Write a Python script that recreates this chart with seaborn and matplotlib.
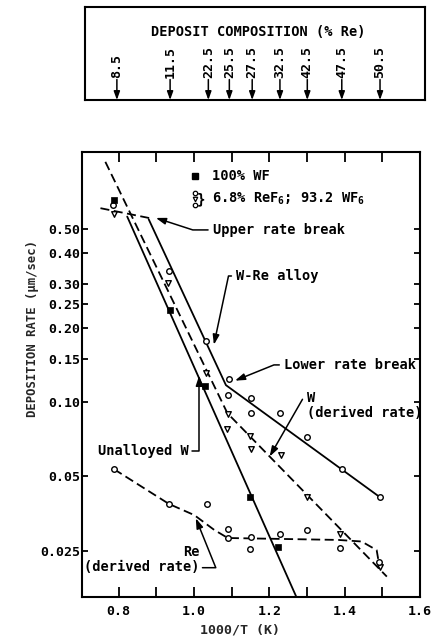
import matplotlib
matplotlib.use("Agg")
import matplotlib.pyplot as plt
from matplotlib.ticker import FixedLocator, FixedFormatter, NullLocator
import seaborn as sns

# Measured rates, 100% WF (filled squares)
wf_x = [0.788, 0.937, 1.030, 1.149, 1.223]
wf_y = [0.659, 0.236, 0.116, 0.0411, 0.0259]

# W-Re alloy total rate (open circles)
alloy_x = [0.786, 0.934, 1.032, 1.094, 1.090, 1.152, 1.152, 1.229, 1.299, 1.392, 1.494]
alloy_y = [0.630, 0.338, 0.176, 0.124, 0.107, 0.104, 0.0905, 0.090, 0.072, 0.0534, 0.0413]

# W derived rate (open triangles)
wder_x = [0.788, 0.931, 1.032, 1.090, 1.087, 1.149, 1.152, 1.232, 1.299, 1.388, 1.494]
wder_y = [0.578, 0.303, 0.131, 0.0895, 0.0776, 0.0729, 0.0644, 0.0611, 0.0413, 0.0292, 0.0214]

# Re derived rate (open circles)
re_x = [0.788, 0.934, 1.034, 1.090, 1.090, 1.152, 1.150, 1.228, 1.299, 1.388, 1.492]
re_y = [0.0534, 0.0386, 0.0387, 0.0306, 0.0281, 0.0284, 0.0253, 0.0292, 0.0303, 0.0255, 0.0225]

# Fitted lines
alloy_line_x = [0.880, 1.085, 1.493]
alloy_line_y = [0.550, 0.117, 0.0412]
unalloyed_line_x = [0.823, 1.272]
unalloyed_line_y = [0.564, 0.0162]
wder_line_x = [0.765, 1.089, 1.512]
wder_line_y = [0.94, 0.090, 0.0196]
upper_line_x = [0.752, 0.885]
upper_line_y = [0.61, 0.555]
re_line_x = [0.788, 0.934, 1.001, 1.054, 1.090, 1.383, 1.445, 1.485, 1.491]
re_line_y = [0.0534, 0.0386, 0.0348, 0.0303, 0.0281, 0.0276, 0.0272, 0.0251, 0.0222]

# Deposit composition scale (% Re) on top
comp_x = [0.797, 0.939, 1.041, 1.097, 1.158, 1.232, 1.305, 1.397, 1.499]
comp_labels = ["8.5", "11.5", "22.5", "25.5", "27.5", "32.5", "42.5", "47.5", "50.5"]

y_ticks = [0.025, 0.05, 0.10, 0.15, 0.20, 0.25, 0.30, 0.40, 0.50]
y_ticklabels = ["0.025", "0.05", "0.10", "0.15", "0.20", "0.25", "0.30", "0.40", "0.50"]
x_ticks = [0.8, 1.0, 1.2, 1.4, 1.6]
x_minor = [0.9, 1.1, 1.3, 1.5]

sns.set_style("ticks")
plt.rcParams['font.family'] = ['DejaVu Sans Mono']
plt.rcParams['font.weight'] = 'bold'
plt.rcParams['mathtext.fontset'] = 'custom'
plt.rcParams['mathtext.rm'] = 'DejaVu Sans Mono:bold'
plt.rcParams['mathtext.it'] = 'DejaVu Sans Mono:bold'
plt.rcParams['mathtext.bf'] = 'DejaVu Sans Mono:bold'
plt.rcParams['axes.edgecolor'] = 'black'
plt.rcParams['axes.linewidth'] = 1.5
plt.rcParams['text.color'] = 'black'
plt.rcParams['xtick.color'] = 'black'
plt.rcParams['ytick.color'] = 'black'

fig = plt.figure(figsize=(4.32, 6.41), dpi=100)
ax = fig.add_axes([0.1898, 0.0686, 0.7824, 0.6942])
ax.set_yscale('log')

dash = (0, (5, 2.5))
sns.lineplot(x=alloy_line_x, y=alloy_line_y, ax=ax, color='k', lw=1.3, sort=False, estimator=None)
sns.lineplot(x=unalloyed_line_x, y=unalloyed_line_y, ax=ax, color='k', lw=1.3, sort=False, estimator=None)
sns.lineplot(x=wder_line_x, y=wder_line_y, ax=ax, color='k', lw=1.3, linestyle=dash, sort=False, estimator=None)
sns.lineplot(x=upper_line_x, y=upper_line_y, ax=ax, color='k', lw=1.3, linestyle=dash, sort=False, estimator=None)
sns.lineplot(x=re_line_x, y=re_line_y, ax=ax, color='k', lw=1.3, linestyle=dash, sort=False, estimator=None)

sns.scatterplot(x=alloy_x, y=alloy_y, ax=ax, marker='o', color='white', edgecolor='k', linewidth=1, s=16, zorder=4)
sns.scatterplot(x=wder_x, y=wder_y, ax=ax, marker='v', color='white', edgecolor='k', linewidth=1, s=16, zorder=4)
sns.scatterplot(x=re_x, y=re_y, ax=ax, marker='o', color='white', edgecolor='k', linewidth=1, s=16, zorder=4)
sns.scatterplot(x=wf_x, y=wf_y, ax=ax, marker='s', color='k', edgecolor='k', linewidth=0.5, s=16, zorder=5)

ax.set_xlim(0.703, 1.60)
ax.set_ylim(0.0162, 1.03)
ax.xaxis.set_major_locator(FixedLocator(x_ticks))
ax.xaxis.set_major_formatter(FixedFormatter([f"{v:.1f}" for v in x_ticks]))
ax.xaxis.set_minor_locator(FixedLocator(x_minor))
ax.yaxis.set_major_locator(FixedLocator(y_ticks))
ax.yaxis.set_major_formatter(FixedFormatter(y_ticklabels))
ax.yaxis.set_minor_locator(NullLocator())
ax.tick_params(axis='x', which='both', direction='in', top=True, bottom=True, length=7, width=1.3, labelsize=9.5, pad=6)
ax.tick_params(axis='y', which='both', direction='out', left=True, length=4, width=1.3, labelsize=9.5, pad=1)
ax.tick_params(axis='y', which='both', right=True, direction='in')
for t in ax.yaxis.get_major_ticks():
    t.tick1line.set_markersize(4)
for s in ax.spines.values():
    s.set_visible(True)

ax.set_xlabel("1000/T (K)", fontsize=9.5, fontweight='bold')
ax.xaxis.set_label_coords(0.467, -0.06)
ax.set_ylabel("DEPOSITION RATE (\u03bcm/sec)", fontsize=8.8, fontweight='bold')
ax.yaxis.set_label_coords(-0.127, 0.604)

# Legend drawn by hand
ax.plot([0.334], [0.946], 's', color='k', ms=4, transform=ax.transAxes, clip_on=False)
ax.text(0.384, 0.946, "100% WF", transform=ax.transAxes, fontsize=9.8, va='center')
ax.plot([0.334], [0.908], 'o', mfc='white', mec='k', ms=3.2, mew=0.9, transform=ax.transAxes)
ax.plot([0.334], [0.894], 'v', mfc='white', mec='k', ms=3.2, mew=0.9, transform=ax.transAxes)
ax.plot([0.334], [0.880], 'o', mfc='white', mec='k', ms=3.2, mew=0.9, transform=ax.transAxes)
ax.text(0.352, 0.894, "}", transform=ax.transAxes, fontsize=10, va='center', ha='center')
ax.text(0.384, 0.894, "6.8% ReF$_6$; 93.2 WF$_6$", transform=ax.transAxes, fontsize=9.8, va='center')

arrow = dict(arrowstyle='-|>,head_length=0.6,head_width=0.2', color='k', lw=1.1,
             shrinkA=1, shrinkB=0)


def note(text, xy, xytext, angle_b, **kw):
    props = dict(arrow, relpos=(0, 0.5), connectionstyle=f"angle,angleA=0,angleB={angle_b},rad=0")
    ax.annotate(text, xy=xy, xytext=xytext, ha='left', va='center', fontsize=9.8,
                arrowprops=props, **kw)


note("Upper rate break", (0.899, 0.557), (1.050, 0.498), -18)
note("W-Re alloy", (1.053, 0.1706), (1.112, 0.324), 78)
note("Lower rate break", (1.109, 0.122), (1.239, 0.1413), 22)

ax.text(1.301, 0.0964, "W\n(derived rate)", fontsize=9.8, ha='left', va='center', linespacing=1.1)
ax.annotate("", xy=(1.201, 0.0601), xytext=(1.290, 0.1037), arrowprops=arrow)

ax.text(0.987, 0.0635, "Unalloyed W", fontsize=9.8, ha='right', va='center')
ax.annotate("", xy=(1.014, 0.128), xytext=(0.992, 0.0635),
            arrowprops=dict(arrow, connectionstyle="angle,angleA=0,angleB=90,rad=0"))

ax.text(1.016, 0.0229, "Re\n(derived rate)", fontsize=9.8, ha='right', va='center',
        multialignment='right', linespacing=1.1)
ax.annotate("", xy=(1.005, 0.0338), xytext=(1.019, 0.0213),
            arrowprops=dict(arrow, connectionstyle="angle,angleA=0,angleB=112,rad=0"))

# Composition box on top
top = fig.add_axes([0.1968, 0.844, 0.787, 0.145])
top.set_xlim(0.712, 1.619)
top.set_ylim(0, 1)
top.set_xticks([])
top.set_yticks([])
for s in top.spines.values():
    s.set_visible(True)
    s.set_linewidth(1.5)
top.text(0.509, 0.731, "DEPOSIT COMPOSITION (% Re)", transform=top.transAxes,
         ha='center', va='center', fontsize=9.8)
for xv, lab in zip(comp_x, comp_labels):
    top.text(xv, 0.24, lab, rotation=90, ha='center', va='bottom', fontsize=9.5)
    top.annotate("", xy=(xv, 0.0), xytext=(xv, 0.22),
                 arrowprops=dict(arrowstyle='-|>,head_length=0.5,head_width=0.18',
                                 color='k', lw=1.1, shrinkA=0, shrinkB=0))

fig.savefig("out.png", dpi=100)
plt.close()
